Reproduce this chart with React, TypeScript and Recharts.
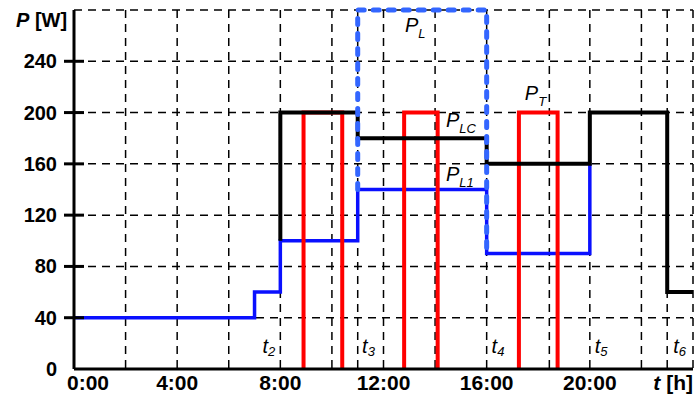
import { CartesianGrid, Line, LineChart, ReferenceDot, XAxis, YAxis, Label } from 'recharts'

const hourTicks = [0, 4, 8, 12, 16, 20]
const powerTicks = [0, 40, 80, 120, 160, 200, 240]
const gridHours = [2, 4, 6, 8, 10, 11, 12, 14, 16, 18.43, 20, 22, 23, 24]
const gridPowers = [40, 80, 120, 160, 200, 240, 280]

// P_L1 (solid blue)
const pL1Hours = [0, 7, 7, 8, 8, 11, 11, 16, 16, 20, 20]
const pL1Watts = [40, 40, 60, 60, 100, 100, 140, 140, 90, 90, 160]
// P_LC (black)
const pLCHours = [8, 8, 11, 11, 16, 16, 20, 20, 23, 23, 24]
const pLCWatts = [100, 200, 200, 180, 180, 160, 160, 200, 200, 60, 60]
// P_L (dashed blue)
const pLHours = [11, 11, 16, 16]
const pLWatts = [140, 280, 280, 90]
// P_T pulses (red)
const pTPulses = [
  [8.9, 10.4],
  [12.8, 14.1],
  [17.25, 18.75],
]
const pTLevel = 200

const curveLabels = [
  { sub: 'L', h: 12.83, w: 263 },
  { sub: 'LC', h: 14.42, w: 189 },
  { sub: 'L1', h: 14.42, w: 147 },
  { sub: 'T', h: 17.48, w: 210 },
]
const timeMarks = [
  { sub: '2', h: 7.31 },
  { sub: '3', h: 11.17 },
  { sub: '4', h: 16.19 },
  { sub: '5', h: 20.19 },
  { sub: '6', h: 23.23 },
]
const timeMarkLevel = 12.5

const zip = (hs: number[], ws: number[]) => hs.map((h, i) => ({ h, w: ws[i] }))

const pL1Data = zip(pL1Hours, pL1Watts)
const pLCData = zip(pLCHours, pLCWatts)
const pLData = zip(pLHours, pLWatts)
const pTData = pTPulses.map(([a, b]) => zip([a, a, b, b], [0, pTLevel, pTLevel, 0]))

const font = '"Liberation Sans", Arial, sans-serif'

const YTick = (props: any) => {
  const { x, y, payload } = props
  return (
    <g>
      {payload.value !== 0 && (
        <line x1={x - 10} x2={x + 10} y1={y} y2={y} stroke="#000" strokeWidth={3} />
      )}
      <text x={x - 17} y={y} dy={7} textAnchor="end" fontSize={20} fontWeight="bold" fontFamily={font} fill="#000">
        {payload.value}
      </text>
    </g>
  )
}

const XTick = (props: any) => {
  const { x, y, payload } = props
  return (
    <text
      x={x + (payload.value === 0 ? 14 : 0)}
      y={y + 21}
      textAnchor="middle"
      fontSize={21}
      fontWeight="bold"
      fontFamily={font}
      fill="#000"
    >
      {payload.value + ':00'}
    </text>
  )
}

const lineProps = {
  type: 'linear' as const,
  dataKey: 'w',
  dot: false,
  activeDot: false,
  isAnimationActive: false,
  strokeLinejoin: 'miter' as const,
}

export default function App() {
  return (
    <div style={{ position: 'absolute', left: 0, top: 0, background: '#fff' }}>
      <LineChart width={697} height={399} margin={{ top: 10, right: 4, bottom: 0, left: 0 }}>
        <CartesianGrid
          stroke="#000"
          strokeWidth={1.5}
          strokeDasharray="8 6"
          verticalValues={gridHours}
          horizontalValues={gridPowers}
        />
        <XAxis
          dataKey="h"
          type="number"
          domain={[0, 24]}
          ticks={hourTicks}
          height={30}
          tickLine={false}
          tickSize={0}
          tickMargin={0}
          tick={<XTick />}
          axisLine={{ stroke: '#000', strokeWidth: 3 }}
        >
          <Label
            content={(p: any) => (
              <text
                x={p.viewBox.x + p.viewBox.width}
                y={p.viewBox.y + 21}
                textAnchor="end"
                fontSize={21}
                fontWeight="bold"
                fontFamily={font}
                fill="#000"
              >
                <tspan fontStyle="italic">t</tspan>
                <tspan> [h]</tspan>
              </text>
            )}
          />
        </XAxis>
        <YAxis
          type="number"
          domain={[0, 280]}
          ticks={powerTicks}
          width={74}
          tickLine={false}
          tickSize={0}
          tickMargin={0}
          tick={<YTick />}
          axisLine={{ stroke: '#000', strokeWidth: 3 }}
        >
          <Label
            content={(p: any) => (
              <text
                x={p.viewBox.x + 16}
                y={p.viewBox.y + 17}
                fontSize={20}
                fontWeight="bold"
                fontFamily={font}
                fill="#000"
              >
                <tspan fontStyle="italic">P</tspan>
                <tspan> [W]</tspan>
              </text>
            )}
          />
        </YAxis>

        <Line {...lineProps} data={pL1Data} stroke="#0a10ff" strokeWidth={3.5} />
        {pTData.map((d, i) => (
          <Line key={i} {...lineProps} data={d} stroke="#ff0000" strokeWidth={4} />
        ))}
        <Line {...lineProps} data={pLCData} stroke="#000" strokeWidth={4} />
        <Line
          {...lineProps}
          data={pLData}
          stroke="#3366ff"
          strokeWidth={5}
          strokeDasharray="6 9"
          strokeLinecap="round"
        />

        {curveLabels.map((c, i) => (
          <ReferenceDot
            key={'c' + i}
            x={c.h}
            y={c.w}
            r={0}
            shape={(p: any) => (
              <text x={p.cx} y={p.cy} fontSize={20} fontStyle="italic" fontFamily={font} fill="#000">
                P
                <tspan dy={6} fontSize={13}>
                  {c.sub}
                </tspan>
              </text>
            )}
          />
        ))}
        {timeMarks.map((t, i) => (
          <ReferenceDot
            key={'t' + i}
            x={t.h}
            y={timeMarkLevel}
            r={0}
            shape={(p: any) => (
              <text x={p.cx} y={p.cy} fontSize={20} fontStyle="italic" fontFamily={font} fill="#000">
                t
                <tspan dy={3} fontSize={13}>
                  {t.sub}
                </tspan>
              </text>
            )}
          />
        ))}
      </LineChart>
    </div>
  )
}
